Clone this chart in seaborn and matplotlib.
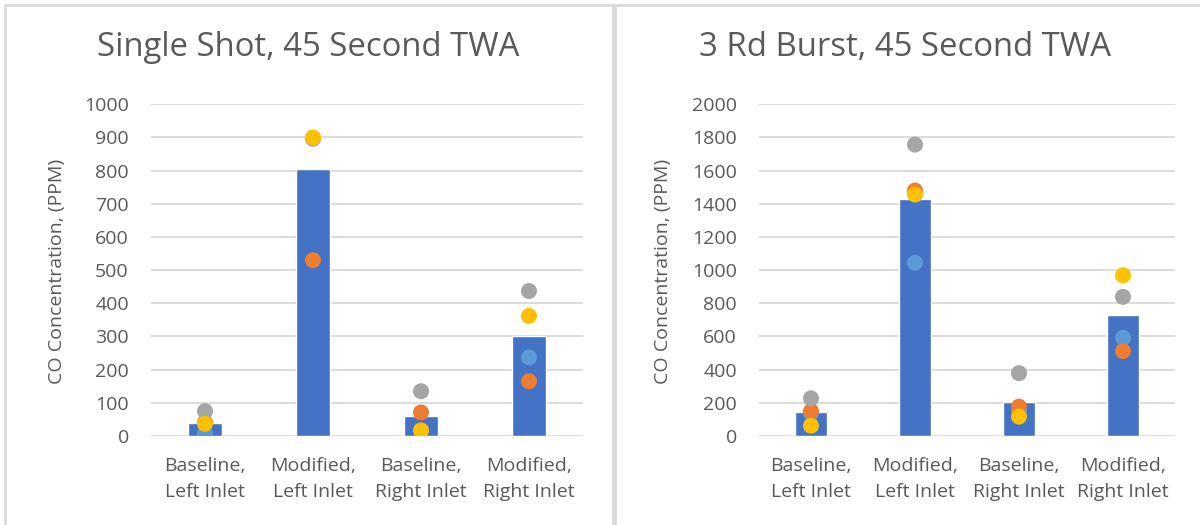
import pandas as pd
import matplotlib.pyplot as plt
import matplotlib.patches as mpatches
import seaborn as sns

# categories and values
categories = ["Baseline,\nLeft Inlet", "Modified,\nLeft Inlet",
              "Baseline,\nRight Inlet", "Modified,\nRight Inlet"]
trials = ["Trial 1", "Trial 2", "Trial 3", "Trial 4"]

single_mean = [40, 806, 59, 300]
single_t1 = [7, 897, 15, 237]
single_t2 = [41, 530, 71, 165]
single_t3 = [75, 897, 135, 437]
single_t4 = [37, 900, 17, 362]

burst_mean = [144, 1432, 207, 727]
burst_t1 = [137, 1045, 155, 592]
burst_t2 = [150, 1480, 177, 512]
burst_t3 = [227, 1757, 379, 839]
burst_t4 = [62, 1456, 117, 969]

bar_color = "#4472C4"
dot_colors = ["#5B9BD5", "#ED7D31", "#A5A5A5", "#FFC000"]
text_color = "#595959"
grid_color = "#D9D9D9"

sns.set_style("white")
plt.rcParams["font.family"] = ["Open Sans", "DejaVu Sans"]

W, H = 1200, 525


def long_table(series):
    rows = []
    for i, cat in enumerate(categories):
        for trial, vals in zip(trials, series):
            rows.append({"category": cat, "trial": trial, "ppm": vals[i]})
    return pd.DataFrame(rows)


def draw_panel(fig, rect, means, series, ymax, step, title, title_x, ylab_x):
    ax = fig.add_axes(rect)
    sns.barplot(x=categories, y=means, color=bar_color, width=0.315,
                saturation=1, ax=ax, zorder=2)
    df = long_table(series)
    sns.stripplot(data=df, x="category", y="ppm", hue="trial",
                  palette=dot_colors, jitter=False, size=11.5, linewidth=0,
                  legend=False, ax=ax, zorder=3)
    ax.set_xlim(-0.5, 3.5)
    ax.set_ylim(0, ymax)
    ax.set_yticks(range(0, ymax + 1, step))
    ax.yaxis.grid(True, color=grid_color, linewidth=1.3, zorder=0)
    ax.set_axisbelow(True)
    sns.despine(ax=ax, left=True, bottom=True)
    ax.tick_params(axis="both", length=0, labelsize=14, colors=text_color)
    ax.tick_params(axis="y", pad=16)
    ax.tick_params(axis="x", pad=15)
    for lbl in ax.get_xticklabels():
        lbl.set_linespacing(1.6)
    ax.set_xlabel("")
    ax.set_ylabel("")
    fig.text(title_x / W, 1 - 47 / H, title, ha="center", va="center",
             fontsize=23.7, color=text_color)
    fig.text(ylab_x / W, 1 - 271 / H, "CO Concentration, (PPM)",
             rotation=90, ha="center", va="center", fontsize=14,
             color=text_color)
    return ax


fig = plt.figure(figsize=(12, 5.25), dpi=100)

# panel frames
fig.patches.append(mpatches.Rectangle((5 / W, -0.1), 608 / W, 1.1 - 5 / H,
                                      transform=fig.transFigure, fill=False,
                                      edgecolor=grid_color, linewidth=2))
fig.patches.append(mpatches.Rectangle((615 / W, -0.1), 600 / W, 1.1 - 5 / H,
                                      transform=fig.transFigure, fill=False,
                                      edgecolor=grid_color, linewidth=2))

draw_panel(fig, [151 / W, 89 / H, 432 / W, 331.7 / H],
           single_mean, [single_t1, single_t2, single_t3, single_t4],
           1000, 100, "Single Shot, 45 Second TWA", 308, 57)
draw_panel(fig, [759 / W, 89 / H, 416 / W, 331.7 / H],
           burst_mean, [burst_t1, burst_t2, burst_t3, burst_t4],
           2000, 200, "3 Rd Burst, 45 Second TWA", 905, 663)

plt.savefig("out.png", dpi=100)
plt.close()
